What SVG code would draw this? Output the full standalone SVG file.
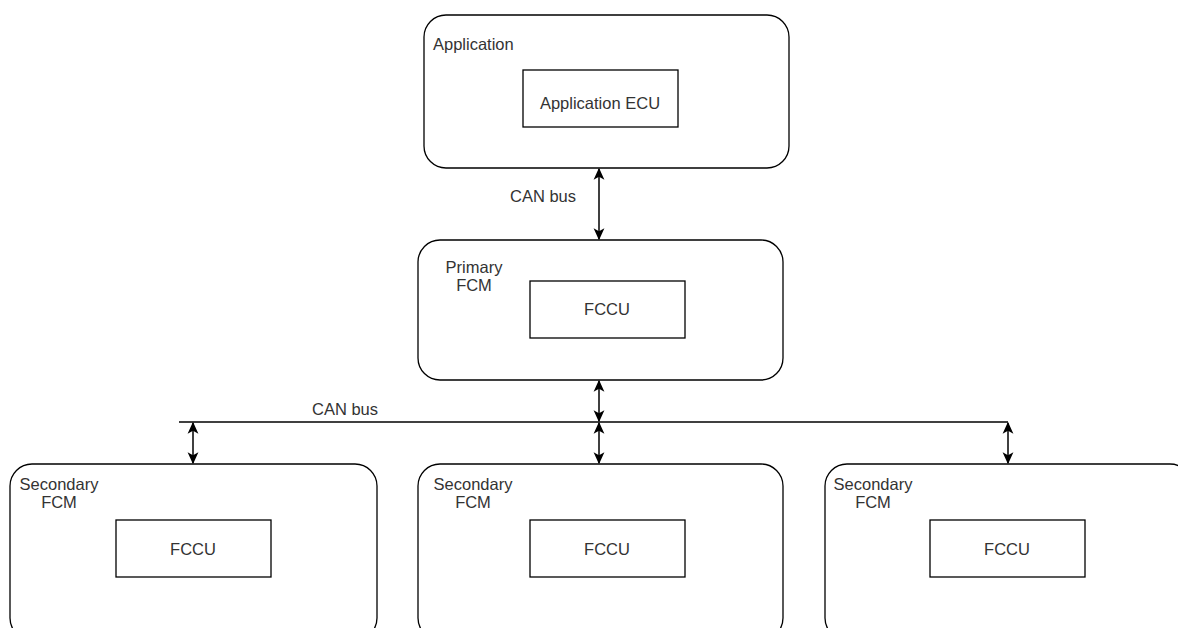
<svg xmlns="http://www.w3.org/2000/svg" width="1178" height="628" viewBox="0 0 1178 628">
<defs>
<marker id="ah" viewBox="0 0 10 10" refX="9" refY="5" markerWidth="12" markerHeight="12" markerUnits="userSpaceOnUse" orient="auto-start-reverse">
<path d="M0,0.5 L10,5 L0,9.5 L2.5,5 Z" fill="#000"/>
</marker>
</defs>
<style>
.outer{fill:#fff;stroke:#000;stroke-width:1.3}
.inner{fill:#fff;stroke:#000;stroke-width:1.3}
.t{font-family:"Liberation Sans",Arial,sans-serif;font-size:16.5px;fill:#333}
.c{stroke:#000;stroke-width:1.5;fill:none}
.m{text-anchor:middle}
</style>
<rect width="1178" height="628" fill="#fff"/>
<g id="application">
<rect class="outer" x="424" y="15" width="365" height="153" rx="22"/>
<text class="t" x="433" y="50">Application</text>
<rect class="inner" x="523" y="70" width="155" height="57"/>
<text class="t m" x="600" y="109">Application ECU</text>
</g>
<g id="primary">
<rect class="outer" x="418" y="240" width="365" height="140" rx="22"/>
<text class="t m" x="474" y="273">Primary</text>
<text class="t m" x="474" y="291">FCM</text>
<rect class="inner" x="530" y="281" width="155" height="57"/>
<text class="t m" x="607" y="315">FCCU</text>
</g>
<g id="secondary1">
<rect class="outer" x="10" y="464" width="367" height="176" rx="22"/>
<text class="t m" x="59" y="490">Secondary</text>
<text class="t m" x="59" y="508">FCM</text>
<rect class="inner" x="116" y="520" width="155" height="57"/>
<text class="t m" x="193" y="555">FCCU</text>
</g>
<g id="secondary2">
<rect class="outer" x="418" y="464" width="365" height="176" rx="22"/>
<text class="t m" x="473" y="490">Secondary</text>
<text class="t m" x="473" y="508">FCM</text>
<rect class="inner" x="530" y="520" width="155" height="57"/>
<text class="t m" x="607" y="555">FCCU</text>
</g>
<g id="secondary3">
<rect class="outer" x="825" y="464" width="367" height="176" rx="22"/>
<text class="t m" x="873" y="490">Secondary</text>
<text class="t m" x="873" y="508">FCM</text>
<rect class="inner" x="930" y="520" width="155" height="57"/>
<text class="t m" x="1007" y="555">FCCU</text>
</g>
<g id="connectors">
<line class="c" x1="599" y1="169" x2="599" y2="239" marker-start="url(#ah)" marker-end="url(#ah)"/>
<text class="t m" x="543" y="202">CAN bus</text>
<line class="c" x1="179" y1="422" x2="1008" y2="422"/>
<text class="t m" x="345" y="415">CAN bus</text>
<line class="c" x1="599" y1="381" x2="599" y2="421" marker-start="url(#ah)" marker-end="url(#ah)"/>
<line class="c" x1="193" y1="423" x2="193" y2="463" marker-start="url(#ah)" marker-end="url(#ah)"/>
<line class="c" x1="599" y1="423" x2="599" y2="463" marker-start="url(#ah)" marker-end="url(#ah)"/>
<line class="c" x1="1008" y1="423" x2="1008" y2="463" marker-start="url(#ah)" marker-end="url(#ah)"/>
</g>
</svg>
